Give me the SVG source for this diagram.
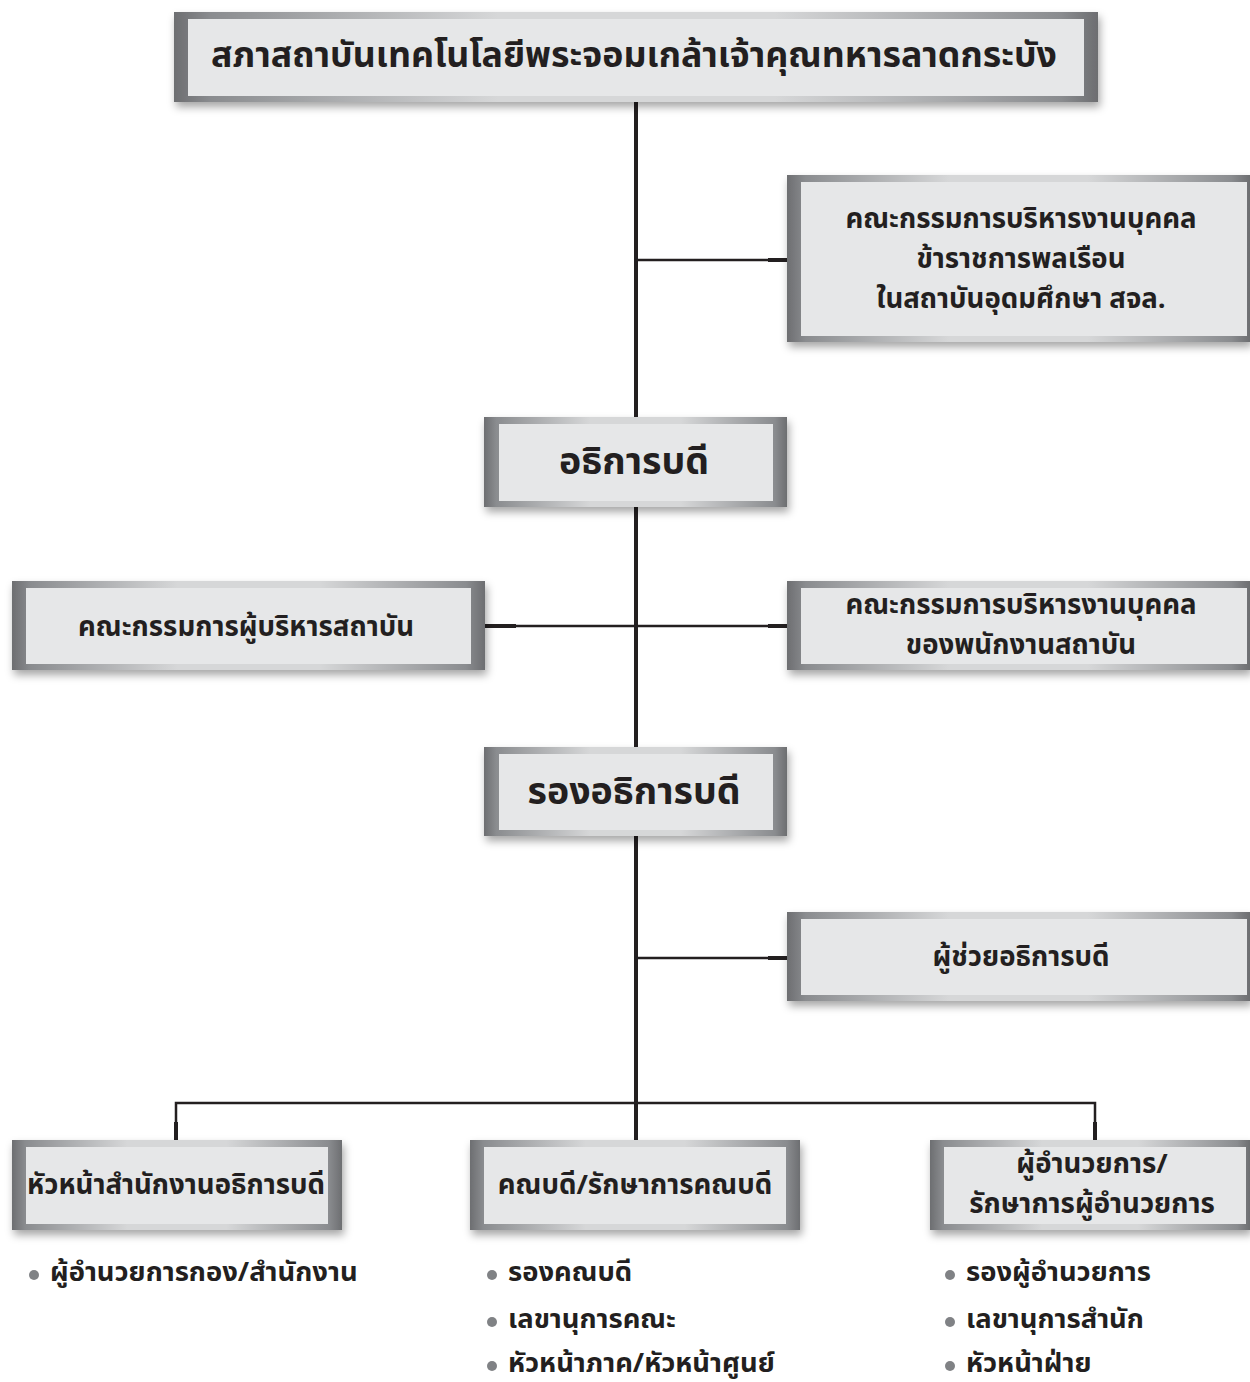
<svg xmlns="http://www.w3.org/2000/svg" width="1250" height="1382" viewBox="0 0 1250 1382">
<defs>
<linearGradient id="frame" x1="0" y1="0" x2="1" y2="0">
<stop offset="0" stop-color="#6d6e71"/>
<stop offset="0.04" stop-color="#8a8c8f"/>
<stop offset="0.35" stop-color="#d6d7d8"/>
<stop offset="0.65" stop-color="#d6d7d8"/>
<stop offset="0.96" stop-color="#8a8c8f"/>
<stop offset="1" stop-color="#6d6e71"/>
</linearGradient>
<filter id="shadow" x="-5%" y="-20%" width="110%" height="150%">
<feDropShadow dx="2" dy="5" stdDeviation="4" flood-color="#000" flood-opacity="0.35"/>
</filter>
</defs>
<style>
.frame{fill:url(#frame);filter:url(#shadow)}
.inner{fill:#e6e7e8}
.t{font-family:"Noto Sans Thai","Noto Sans","Liberation Sans",sans-serif;font-weight:bold;fill:#231f20;text-anchor:middle;dominant-baseline:central}
.big{font-size:35.7px}
.mid{font-size:37.5px}
.n{font-size:27.6px}
.b{font-family:"Noto Sans Thai","Noto Sans","Liberation Sans",sans-serif;font-weight:bold;fill:#231f20;font-size:27.4px;dominant-baseline:central}
.bullet{fill:#808285}
.main{stroke:#231f20;stroke-width:4;fill:none}
.br{stroke:#231f20;stroke-width:2.5;fill:none}
.stub{stroke:#231f20;stroke-width:4;fill:none}
</style>
<g id="connectors">
<line class="main" x1="636" y1="100" x2="636" y2="418"/>
<line class="main" x1="636" y1="506" x2="636" y2="748"/>
<line class="main" x1="636" y1="835" x2="636" y2="1141"/>
<line class="br" x1="636" y1="260" x2="787" y2="260"/>
<line class="stub" x1="768" y1="260" x2="788" y2="260"/>
<line class="br" x1="485" y1="626" x2="787" y2="626"/>
<line class="stub" x1="484" y1="626" x2="516" y2="626"/>
<line class="stub" x1="768" y1="626" x2="788" y2="626"/>
<line class="br" x1="636" y1="958" x2="787" y2="958"/>
<line class="stub" x1="768" y1="958" x2="788" y2="958"/>
<path class="br" d="M176 1141 V1103 H1095 V1141"/>
<line class="stub" x1="176" y1="1122" x2="176" y2="1141"/>
<line class="stub" x1="1095" y1="1122" x2="1095" y2="1141"/>
</g>
<g id="n1">
<rect class="frame" x="174" y="12" width="924" height="90"/>
<rect class="inner" x="188" y="19" width="896" height="77"/>
<text class="t big" x="634" y="56">สภาสถาบันเทคโนโลยีพระจอมเกล้าเจ้าคุณทหารลาดกระบัง</text>
</g>
<g id="n2">
<rect class="frame" x="787" y="175" width="463" height="167"/>
<rect class="inner" x="801" y="182" width="446" height="154"/>
<text class="t n" x="1021" y="219">คณะกรรมการบริหารงานบุคคล</text>
<text class="t n" x="1021" y="259">ข้าราชการพลเรือน</text>
<text class="t n" x="1021" y="299">ในสถาบันอุดมศึกษา สจล.</text>
</g>
<g id="n3">
<rect class="frame" x="484" y="417" width="303" height="90"/>
<rect class="inner" x="499" y="424" width="274" height="77"/>
<text class="t mid" x="634" y="462">อธิการบดี</text>
</g>
<g id="n4">
<rect class="frame" x="12" y="581" width="473" height="89"/>
<rect class="inner" x="26" y="588" width="445" height="76"/>
<text class="t n" x="246" y="627">คณะกรรมการผู้บริหารสถาบัน</text>
</g>
<g id="n5">
<rect class="frame" x="787" y="581" width="463" height="89"/>
<rect class="inner" x="801" y="588" width="446" height="76"/>
<text class="t n" x="1021" y="605">คณะกรรมการบริหารงานบุคคล</text>
<text class="t n" x="1021" y="645">ของพนักงานสถาบัน</text>
</g>
<g id="n6">
<rect class="frame" x="484" y="747" width="303" height="89"/>
<rect class="inner" x="499" y="754" width="274" height="76"/>
<text class="t mid" x="634" y="792">รองอธิการบดี</text>
</g>
<g id="n7">
<rect class="frame" x="787" y="912" width="463" height="89"/>
<rect class="inner" x="801" y="919" width="446" height="76"/>
<text class="t n" x="1021" y="957">ผู้ช่วยอธิการบดี</text>
</g>
<g id="n8">
<rect class="frame" x="12" y="1140" width="330" height="90"/>
<rect class="inner" x="26" y="1147" width="302" height="77"/>
<text class="t n" x="176" y="1185">หัวหน้าสำนักงานอธิการบดี</text>
<circle class="bullet" cx="34" cy="1275" r="5"/>
<text class="b" x="50" y="1272">ผู้อำนวยการกอง/สำนักงาน</text>
</g>
<g id="n9">
<rect class="frame" x="470" y="1140" width="330" height="90"/>
<rect class="inner" x="484" y="1147" width="302" height="77"/>
<text class="t n" x="635" y="1185">คณบดี/รักษาการคณบดี</text>
<circle class="bullet" cx="492" cy="1275" r="5"/>
<text class="b" x="508" y="1272">รองคณบดี</text>
<circle class="bullet" cx="492" cy="1322" r="5"/>
<text class="b" x="508" y="1319">เลขานุการคณะ</text>
<circle class="bullet" cx="492" cy="1366" r="5"/>
<text class="b" x="508" y="1363">หัวหน้าภาค/หัวหน้าศูนย์</text>
</g>
<g id="n10">
<rect class="frame" x="930" y="1140" width="320" height="90"/>
<rect class="inner" x="944" y="1147" width="302" height="77"/>
<text class="t n" x="1092" y="1164">ผู้อำนวยการ/</text>
<text class="t n" x="1092" y="1204">รักษาการผู้อำนวยการ</text>
<circle class="bullet" cx="950" cy="1275" r="5"/>
<text class="b" x="966" y="1272">รองผู้อำนวยการ</text>
<circle class="bullet" cx="950" cy="1322" r="5"/>
<text class="b" x="966" y="1319">เลขานุการสำนัก</text>
<circle class="bullet" cx="950" cy="1366" r="5"/>
<text class="b" x="966" y="1363">หัวหน้าฝ่าย</text>
</g>
</svg>
